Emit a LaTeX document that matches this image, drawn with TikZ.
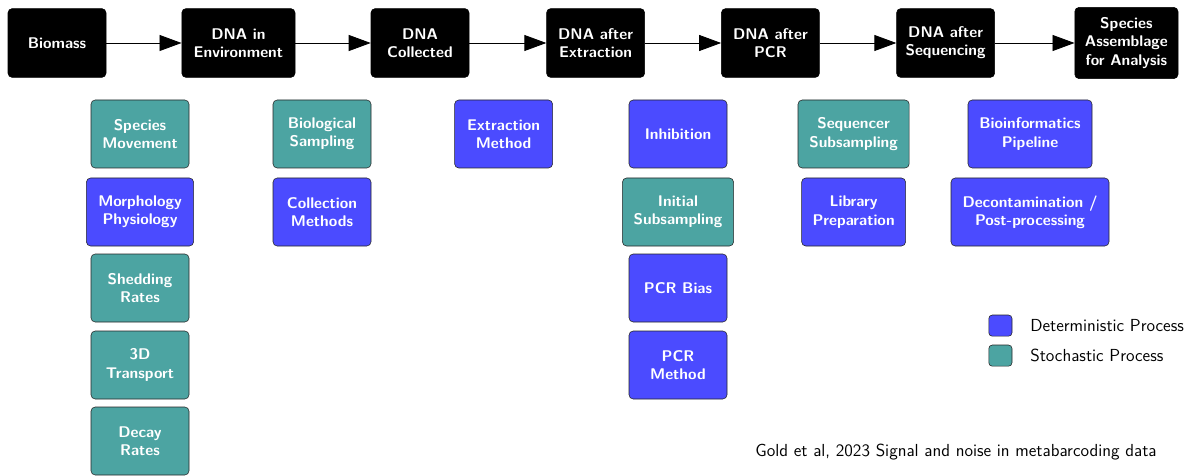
\documentclass[tikz,border=0pt]{standalone}
\usepackage{xcolor}
\usepackage{tikz}
\usetikzlibrary{arrows.meta,positioning}
\definecolor{detblue}{RGB}{75,75,255}
\definecolor{stoteal}{RGB}{76,164,162}
\tikzset{
  stagebox/.style={draw, fill=black, text=white, rounded corners=3pt, minimum width=2.45cm, minimum height=1.72cm, font=\sffamily\bfseries\fontsize{11}{13}\selectfont, align=center, inner sep=2pt},
  detbox/.style={draw=black!85, fill=detblue, text=white, rounded corners=3pt, minimum width=2.45cm, minimum height=1.7cm, font=\sffamily\bfseries\fontsize{11}{13}\selectfont, align=center, inner sep=2pt},
  stobox/.style={draw=black!85, fill=stoteal, text=white, rounded corners=3pt, minimum width=2.45cm, minimum height=1.7cm, font=\sffamily\bfseries\fontsize{11}{13}\selectfont, align=center, inner sep=2pt},
  keybox/.style={draw=black!85, rounded corners=2.5pt, minimum width=0.58cm, minimum height=0.53cm, inner sep=0pt},
  keytext/.style={font=\sffamily\fontsize{12.4}{14}\selectfont, anchor=west, inner sep=0pt},
  flowarrow/.style={-{Triangle[length=5.5mm,width=4mm]}, semithick},
}

\begin{document}
\begin{tikzpicture}
  \useasboundingbox (0,0) rectangle (29.6,-11.9);

  % Stages of the DNA pipeline
  \foreach \name/\x/\boxw/\txt in {
    bio/1.425/2.45/Biomass,
    env/5.96/2.83/DNA in\\Environment,
    col/10.5/2.45/DNA\\Collected,
    ext/14.89/2.45/DNA after\\Extraction,
    pcr/19.26/2.45/DNA after\\PCR,
    seq/23.64/2.45/DNA after\\Sequencing}
  {
    \node[stagebox, minimum width=\boxw cm] (\name) at (\x,-1.075) {\txt};
  }
  \node[stagebox, minimum width=2.58cm, minimum height=1.78cm] (asm) at (28.16,-1.075) {Species\\Assemblage\\for Analysis};

  \foreach \a/\b in {bio/env, env/col, col/ext, ext/pcr, pcr/seq, seq/asm}
    \draw[flowarrow] (\a) -- (\b);

  % Processes acting at each stage
  \node[stobox] (move) at (3.5,-3.35) {Species\\Movement};
  \node[detbox, minimum width=2.68cm] (morph) at (3.5,-5.3) {Morphology\\Physiology};
  \node[stobox] (shed) at (3.5,-7.2) {Shedding\\Rates};
  \node[stobox] (trans) at (3.5,-9.125) {3D\\Transport};
  \node[stobox] (decay) at (3.5,-11.025) {Decay\\Rates};

  \node[stobox] (biosamp) at (8.05,-3.35) {Biological\\Sampling};
  \node[detbox] (collmeth) at (8.05,-5.3) {Collection\\Methods};

  \node[detbox] (extmeth) at (12.59,-3.35) {Extraction\\Method};

  \node[detbox] (inhib) at (16.95,-3.35) {Inhibition};
  \node[stobox, minimum width=2.78cm] (initsub) at (16.95,-5.3) {Initial\\Subsampling};
  \node[detbox] (pcrbias) at (16.95,-7.2) {PCR Bias};
  \node[detbox] (pcrmeth) at (16.95,-9.125) {PCR\\Method};

  \node[stobox, minimum width=2.78cm] (seqsub) at (21.34,-3.35) {Sequencer\\Subsampling};
  \node[detbox, minimum width=2.6cm] (libprep) at (21.34,-5.3) {Library\\Preparation};

  \node[detbox, minimum width=3.1cm] (bioinf) at (25.75,-3.35) {Bioinformatics\\Pipeline};
  \node[detbox, minimum width=3.95cm] (decont) at (25.75,-5.3) {Decontamination /\\Post-processing};

  % Legend
  \node[keybox, fill=detblue] (keydet) at (25.01,-8.14) {};
  \node[keytext] (keydettxt) at (25.75,-8.14) {Deterministic Process};
  \node[keybox, fill=stoteal] (keysto) at (25.01,-8.89) {};
  \node[keytext] (keystotxt) at (25.75,-8.89) {Stochastic Process};

  % Source
  \node[keytext] (source) at (18.88,-11.3) {Gold et al, 2023 Signal and noise in metabarcoding data};
\end{tikzpicture}
\end{document}
